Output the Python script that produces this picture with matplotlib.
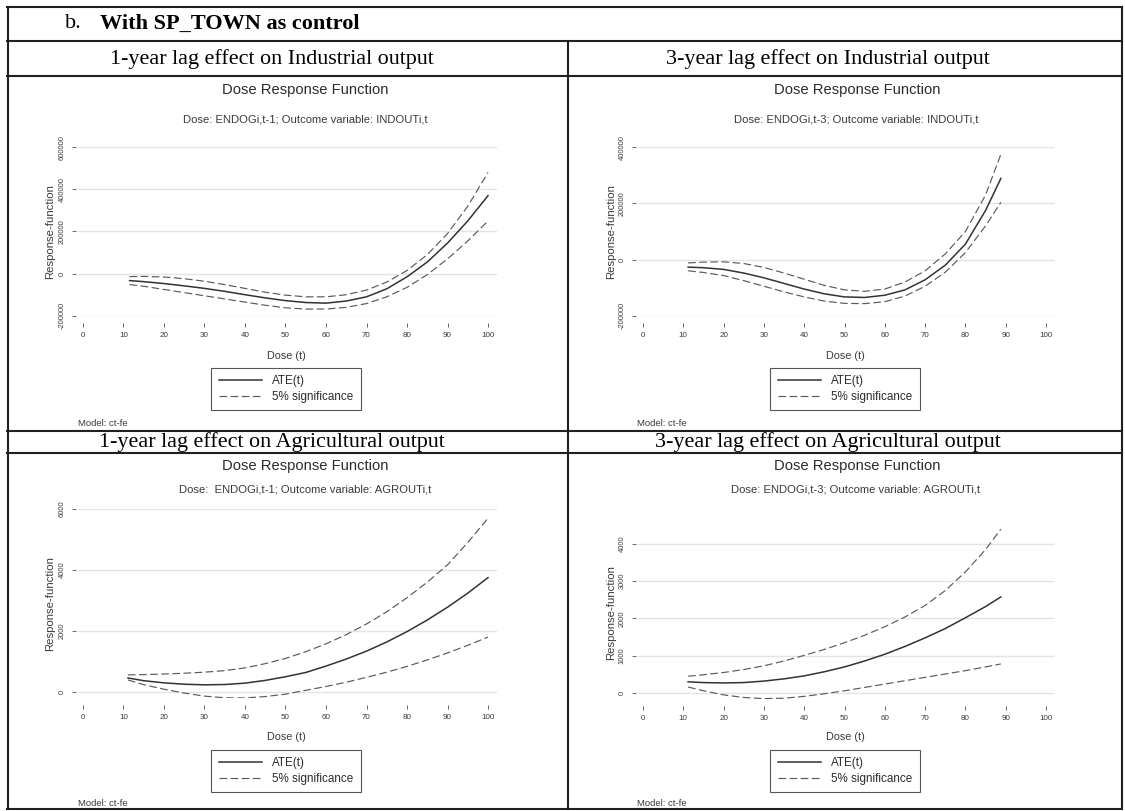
import matplotlib.pyplot as plt

plt.rcParams['lines.scale_dashes'] = False

# ---------------------------------------------------------------- data
# Industrial output, 1-year lag
dose_tl = [11.5, 15, 20, 25, 30, 35, 40, 45, 50, 55, 60, 65, 70, 75, 80, 85, 90, 95, 100]
ate_tl = [-33000, -38000, -47000, -58000, -70000, -84000, -100000, -115000, -128000, -137000,
          -140000, -130000, -110000, -72000, -15000, 55000, 145000, 250000, 370000]
upper_tl = [-14000, -13000, -16000, -24000, -36000, -52000, -70000, -88000, -102000, -110000,
            -110000, -100000, -78000, -40000, 15000, 90000, 190000, 320000, 480000]
lower_tl = [-52000, -60000, -75000, -90000, -105000, -120000, -135000, -150000, -162000, -168000,
            -168000, -160000, -142000, -110000, -65000, -5000, 70000, 155000, 250000]

# Industrial output, 3-year lag
dose_tr = [11.2, 15, 20, 25, 30, 35, 40, 45, 50, 55, 60, 65, 70, 75, 80, 85, 88.8]
ate_tr = [-27000, -29000, -35000, -48000, -65000, -85000, -105000, -122000, -133000, -135000,
          -127000, -108000, -72000, -20000, 55000, 175000, 289000]
upper_tr = [-12000, -9000, -8000, -14000, -28000, -48000, -70000, -92000, -108000, -113000,
            -105000, -80000, -40000, 20000, 100000, 230000, 375000]
lower_tr = [-40000, -46000, -57000, -75000, -95000, -115000, -133000, -148000, -156000, -157000,
            -150000, -130000, -95000, -45000, 25000, 120000, 204000]

# Agricultural output, 1-year lag
dose_bl = [11.1, 15, 20, 25, 30, 35, 40, 45, 50, 55, 60, 65, 70, 75, 80, 85, 90, 95, 100]
ate_bl = [460, 370, 300, 255, 235, 245, 290, 380, 500, 640, 850, 1080, 1340, 1640, 1980,
          2360, 2780, 3240, 3750]
upper_bl = [560, 570, 590, 615, 650, 700, 790, 930, 1100, 1320, 1580, 1880, 2230, 2630, 3090,
            3600, 4170, 4900, 5700]
lower_bl = [395, 240, 90, -35, -135, -190, -195, -150, -70, 55, 180, 320, 480, 650, 840,
            1050, 1280, 1530, 1800]

# Agricultural output, 3-year lag
dose_br = [11.2, 15, 20, 25, 30, 35, 40, 45, 50, 55, 60, 65, 70, 75, 80, 85, 88.8]
ate_br = [300, 280, 270, 280, 320, 380, 460, 570, 700, 860, 1040, 1250, 1480, 1730, 2020, 2320, 2580]
upper_br = [450, 490, 550, 630, 730, 860, 1010, 1170, 1350, 1550, 1780, 2040, 2350, 2750, 3250,
            3850, 4400]
lower_br = [160, 60, -50, -120, -150, -140, -90, -20, 60, 150, 240, 330, 420, 510, 600, 700, 780]

xticks = [0, 10, 20, 30, 40, 50, 60, 70, 80, 90, 100]
yticks_tl = [-200000, 0, 200000, 400000, 600000]
yticks_tr = [-200000, 0, 200000, 400000]
yticks_bl = [0, 2000, 4000, 6000]
yticks_br = [0, 1000, 2000, 3000, 4000]

header = 'With SP_TOWN as control'
row_titles = ['1-year lag effect on Industrial output', '3-year lag effect on Industrial output',
              '1-year lag effect on Agricultural output', '3-year lag effect on Agricultural output']
subtitles = ['Dose: ENDOGi,t-1; Outcome variable: INDOUTi,t',
             'Dose: ENDOGi,t-3; Outcome variable: INDOUTi,t',
             'Dose:  ENDOGi,t-1; Outcome variable: AGROUTi,t',
             'Dose: ENDOGi,t-3; Outcome variable: AGROUTi,t']

# ---------------------------------------------------------------- figure
W, H = 1125, 811
fig = plt.figure(figsize=(W / 100, H / 100), dpi=100)

# background axes in pixel units: table frame and free text
bg = fig.add_axes([0, 0, 1, 1])
bg.set_xlim(0, W)
bg.set_ylim(H, 0)
bg.axis('off')

LINE = '#231f20'
SERIF = 'Liberation Serif'
SANS = 'Liberation Sans'
TXT = '#3a3a3a'
DASH = (0, (5.5, 2.5))

for y in [6.5, 41, 76, 431, 453, 809]:
    bg.plot([7, 1122], [y, y], color=LINE, lw=1.5, solid_capstyle='projecting')
bg.plot([7.5, 7.5], [6.5, 809], color=LINE, lw=1.5)
bg.plot([1121.5, 1121.5], [6.5, 809], color=LINE, lw=1.5)
bg.plot([568, 568], [41, 809], color=LINE, lw=1.5)

bg.text(65, 24, 'b.', family=SERIF, fontsize=16, va='center', ha='left', color='black')
bg.text(100, 24, header, family=SERIF, fontsize=16, fontweight='bold', va='center', ha='left',
        color='black')
bg.text(272, 59, row_titles[0], family=SERIF, fontsize=15.9, ha='center', va='center')
bg.text(828, 59, row_titles[1], family=SERIF, fontsize=15.9, ha='center', va='center')
bg.text(272, 442, row_titles[2], family=SERIF, fontsize=15.9, ha='center', va='center')
bg.text(828, 442, row_titles[3], family=SERIF, fontsize=15.9, ha='center', va='center')


def panel(px, xlim, ylim, yticks, dose, ate, upper, lower, subtitle, texts):
    l, t, r, b = px
    ax = fig.add_axes([l / W, 1 - b / H, (r - l) / W, (b - t) / H])
    ax.patch.set_alpha(0)
    ate_line, = ax.plot(dose, ate, color='#333333', lw=1.1)
    sig_line, = ax.plot(dose, upper, color='#5a5a5a', lw=0.85, linestyle=DASH)
    ax.plot(dose, lower, color='#5a5a5a', lw=0.85, linestyle=DASH)
    ax.set_xlim(*xlim)
    ax.set_ylim(*ylim)
    ax.set_xticks(xticks)
    ax.set_yticks(yticks)
    ax.set_yticklabels([str(v) for v in yticks])
    ax.grid(axis='y', color='#e4e4e4', lw=1.0)
    ax.set_axisbelow(True)
    for s in ax.spines.values():
        s.set_visible(False)
    ax.spines['bottom'].set_position(('outward', 5))
    ax.spines['left'].set_position(('outward', 1.5))
    ax.tick_params(axis='x', length=3, width=0.7, color='#666666', pad=3.5,
                   labelsize=5.8, labelcolor=TXT)
    ax.tick_params(axis='y', length=3, width=0.7, color='#666666', pad=4.5,
                   labelsize=5.4, labelcolor=TXT)
    for lbl in ax.get_yticklabels():
        lbl.set_rotation(90)
        lbl.set_va('center')
        lbl.set_family(SANS)
    for lbl in ax.get_xticklabels():
        lbl.set_family(SANS)

    title_xy, sub_xy, ylab_x, xlab_xy, leg_xy, model_xy = texts
    bg.text(*title_xy, 'Dose Response Function', family=SANS, fontsize=10.6, color='#2b2b2b',
            ha='center', va='center')
    bg.text(*sub_xy, subtitle, family=SANS, fontsize=8.1, color=TXT, ha='center', va='center')
    bg.text(ylab_x, (t + b) / 2, 'Response-function', family=SANS, fontsize=8.2, color=TXT,
            rotation=90, ha='center', va='center')
    bg.text(*xlab_xy, 'Dose (t)', family=SANS, fontsize=7.8, color=TXT, ha='center', va='center')
    bg.text(*model_xy, 'Model: ct-fe', family=SANS, fontsize=6.8, color=TXT, ha='left',
            va='center')
    leg = ax.legend([ate_line, sig_line], ['ATE(t)', '5% significance'], loc='center',
                    bbox_to_anchor=(leg_xy[0] / W, 1 - leg_xy[1] / H),
                    bbox_transform=fig.transFigure, frameon=True, fancybox=False,
                    edgecolor='#555555', framealpha=1, borderaxespad=0,
                    prop={'family': SANS, 'size': 8.4}, handlelength=3.7, handletextpad=0.85,
                    borderpad=0.65, labelspacing=0.3)
    leg.get_frame().set_linewidth(0.8)
    for txt in leg.get_texts():
        txt.set_color('#2b2b2b')
    return ax


panel((78, 147, 497, 316), (-1.23, 102.22), (-201000, 601000), yticks_tl,
      dose_tl, ate_tl, upper_tl, lower_tl, subtitles[0],
      ((305, 90), (305, 120), 50, (286, 356), (286, 389), (78, 423)))

panel((638, 147, 1055, 316), (-1.24, 102.23), (-201000, 401000), yticks_tr,
      dose_tr, ate_tr, upper_tr, lower_tr, subtitles[1],
      ((857, 90), (856, 120), 611, (845, 356), (845, 389), (637, 423)))

panel((78, 509, 497, 698), (-1.23, 102.22), (-197, 6000), yticks_bl,
      dose_bl, ate_bl, upper_bl, lower_bl, subtitles[2],
      ((305, 466), (305, 490), 50, (286, 737), (286, 771), (78, 803)))

panel((638, 527, 1055, 699), (-1.24, 102.23), (-161, 4456), yticks_br,
      dose_br, ate_br, upper_br, lower_br, subtitles[3],
      ((857, 466), (856, 490), 611, (845, 737), (845, 771), (637, 803)))

fig.savefig('out.png', dpi=100)
